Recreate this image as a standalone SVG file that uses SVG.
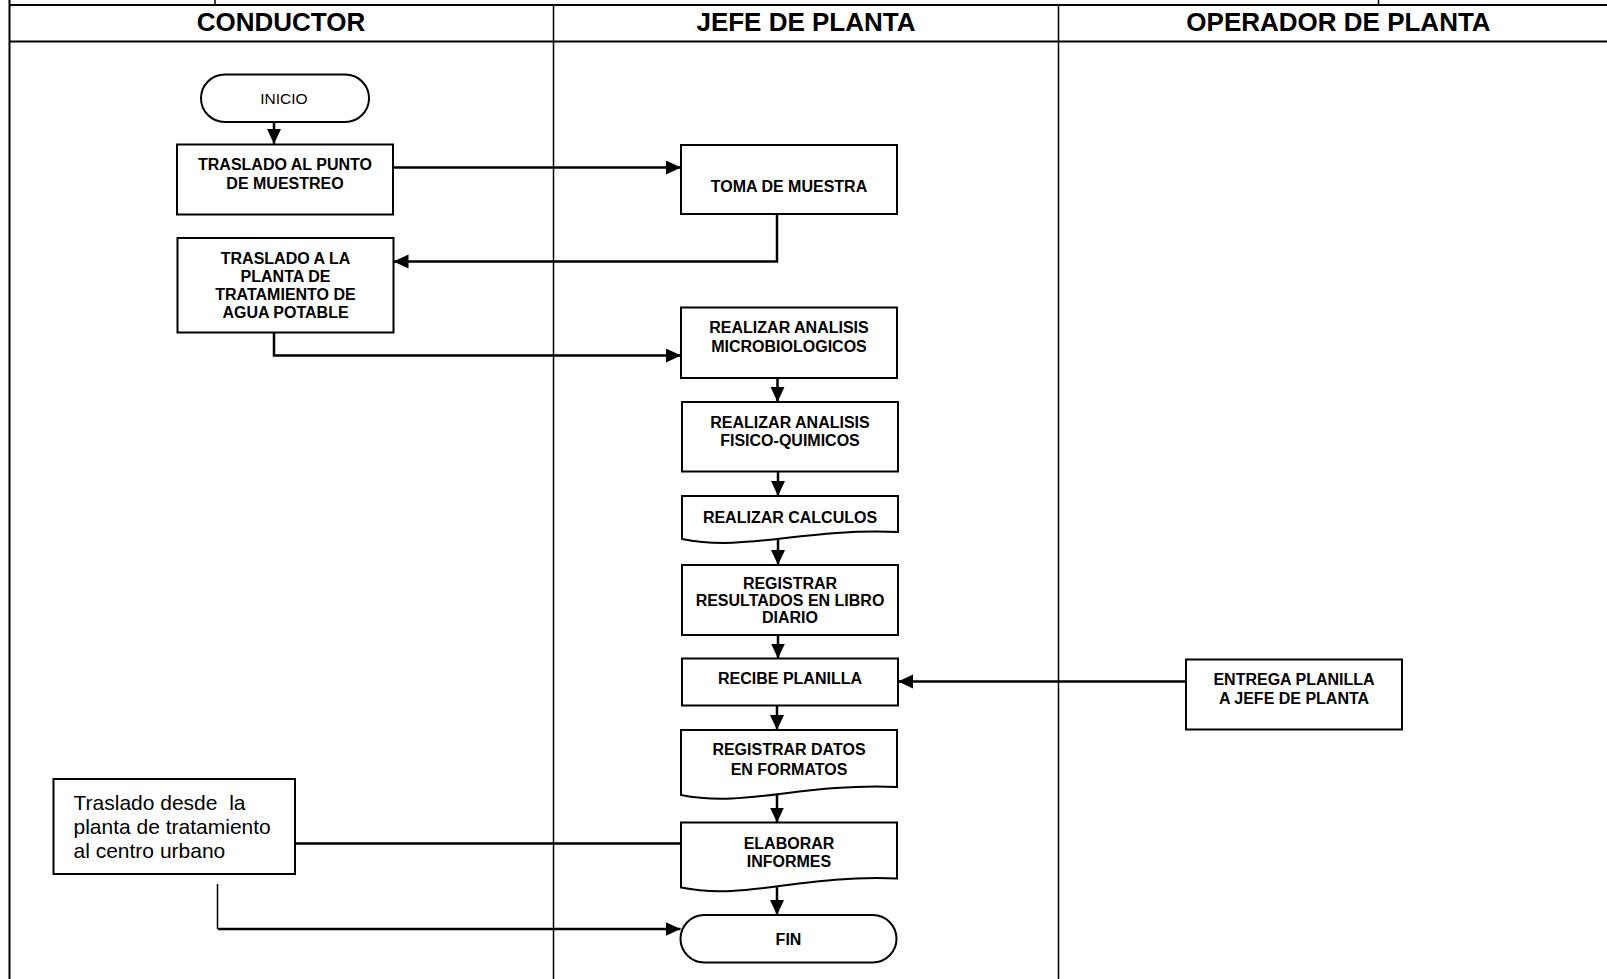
<svg xmlns="http://www.w3.org/2000/svg" width="1607" height="979" viewBox="0 0 1607 979">
<style>
.frame{stroke:#000;stroke-width:2;fill:none}
.lane{stroke:#000;stroke-width:1.5;fill:none}
.box{fill:#fff;stroke:#000;stroke-width:2}
.hdr{font-family:"Liberation Sans",Arial,sans-serif;font-weight:bold;font-size:26px;text-anchor:middle;fill:#000}
.t{font-family:"Liberation Sans",Arial,sans-serif;font-weight:bold;font-size:16px;text-anchor:middle;fill:#000}
.r{font-family:"Liberation Sans",Arial,sans-serif;font-size:15.5px;text-anchor:middle;fill:#000}
.big{font-family:"Liberation Sans",Arial,sans-serif;font-size:21px;fill:#000;white-space:pre}
.c{stroke:#000;stroke-width:2.5;fill:none}
.ca{stroke:#000;stroke-width:2.5;fill:none;marker-end:url(#ah)}
.thin{stroke:#000;stroke-width:1.5;fill:none}
</style>
<defs>
<marker id="ah" markerUnits="userSpaceOnUse" markerWidth="16" markerHeight="15" refX="15" refY="7" orient="auto">
<path d="M0,0 L15,7 L0,14 Z" fill="#000"/>
</marker>
</defs>
<rect width="1607" height="979" fill="#fff"/>
<g id="frame">
<line class="frame" x1="9.5" y1="0" x2="9.5" y2="979"/>
<line class="frame" x1="9.5" y1="5" x2="1607" y2="5"/>
<line class="frame" x1="9.5" y1="41.5" x2="1607" y2="41.5"/>
<line class="lane" x1="215" y1="0" x2="215" y2="5"/>
<line class="lane" x1="1378.5" y1="0" x2="1378.5" y2="5"/>
<line class="lane" x1="553.5" y1="5" x2="553.5" y2="979"/>
<line class="lane" x1="1058.5" y1="5" x2="1058.5" y2="979"/>
<text class="hdr" x="281" y="30.5">CONDUCTOR</text>
<text class="hdr" x="806" y="30.5">JEFE DE PLANTA</text>
<text class="hdr" x="1338.5" y="30.5">OPERADOR DE PLANTA</text>
</g>
<g id="connectors">
<path class="ca" d="M274,122 V144"/>
<path class="ca" d="M393,167.5 H681"/>
<path class="ca" d="M777,214 V261.5 H393.5"/>
<path class="ca" d="M274,332.5 V355.5 H681"/>
<path class="ca" d="M777.5,378 V402"/>
<path class="ca" d="M778,471.5 V496"/>
<path class="ca" d="M778,539 V565"/>
<path class="ca" d="M778,635 V658.5"/>
<path class="ca" d="M777,706 V730"/>
<path class="ca" d="M777,794.5 V822.5"/>
<path class="ca" d="M777,886.5 V915"/>
<path class="ca" d="M1186,681.5 H898"/>
<path class="c" d="M295,843.5 H681"/>
<path class="thin" d="M217.5,884 V929"/>
<path class="ca" d="M218,929 H680.5"/>
</g>
<g id="inicio">
<rect class="box" x="201" y="74.5" width="168" height="47.5" rx="23.75"/>
<text class="r" x="284" y="104">INICIO</text>
</g>
<g id="traslado-punto">
<rect class="box" x="177" y="144.5" width="216" height="70"/>
<text class="t" x="285" y="170">TRASLADO AL PUNTO</text>
<text class="t" x="285" y="188.5">DE MUESTREO</text>
</g>
<g id="toma-muestra">
<rect class="box" x="681" y="145" width="216" height="69"/>
<text class="t" x="789" y="191.5">TOMA DE MUESTRA</text>
</g>
<g id="traslado-planta">
<rect class="box" x="177.5" y="238" width="216" height="94.5"/>
<text class="t" x="285.5" y="263.5">TRASLADO A LA</text>
<text class="t" x="285.5" y="281.8">PLANTA DE</text>
<text class="t" x="285.5" y="300.1">TRATAMIENTO DE</text>
<text class="t" x="285.5" y="318.4">AGUA POTABLE</text>
</g>
<g id="microbiologicos">
<rect class="box" x="681" y="307.5" width="216" height="70.5"/>
<text class="t" x="789" y="333">REALIZAR ANALISIS</text>
<text class="t" x="789" y="352">MICROBIOLOGICOS</text>
</g>
<g id="fisico-quimicos">
<rect class="box" x="682" y="402" width="216" height="69.5"/>
<text class="t" x="790" y="427.5">REALIZAR ANALISIS</text>
<text class="t" x="790" y="445.5">FISICO-QUIMICOS</text>
</g>
<g id="calculos">
<path class="box" d="M682,496 H898 V532 C800.8,528 746.8,552 682,539 Z"/>
<text class="t" x="790" y="523">REALIZAR CALCULOS</text>
</g>
<g id="registrar-resultados">
<rect class="box" x="682" y="565" width="216" height="70"/>
<text class="t" x="790" y="588.5">REGISTRAR</text>
<text class="t" x="790" y="605.5">RESULTADOS EN LIBRO</text>
<text class="t" x="790" y="622.5">DIARIO</text>
</g>
<g id="recibe-planilla">
<rect class="box" x="682" y="658.5" width="216" height="47"/>
<text class="t" x="790" y="684">RECIBE PLANILLA</text>
</g>
<g id="registrar-datos">
<path class="box" d="M681,730 H897 V787 C799.8,783 745.8,808 681,795 Z"/>
<text class="t" x="789" y="755">REGISTRAR DATOS</text>
<text class="t" x="789" y="774.5">EN FORMATOS</text>
</g>
<g id="elaborar-informes">
<path class="box" d="M681,822.5 H897 V878.5 C799.8,874.5 745.8,900.5 681,887.5 Z"/>
<text class="t" x="789" y="848.5">ELABORAR</text>
<text class="t" x="789" y="867">INFORMES</text>
</g>
<g id="fin">
<rect class="box" x="680.5" y="915" width="216" height="47.5" rx="23.75"/>
<text class="t" x="788.5" y="945">FIN</text>
</g>
<g id="entrega-planilla">
<rect class="box" x="1186" y="659.5" width="216" height="70"/>
<text class="t" x="1294" y="685">ENTREGA PLANILLA</text>
<text class="t" x="1294" y="704">A JEFE DE PLANTA</text>
</g>
<g id="traslado-centro">
<rect class="box" x="53.5" y="779" width="241.5" height="95"/>
<text class="big" x="73.5" y="809.5">Traslado desde  la</text>
<text class="big" x="73.5" y="833.5">planta de tratamiento</text>
<text class="big" x="73.5" y="857.5">al centro urbano</text>
</g>
</svg>
